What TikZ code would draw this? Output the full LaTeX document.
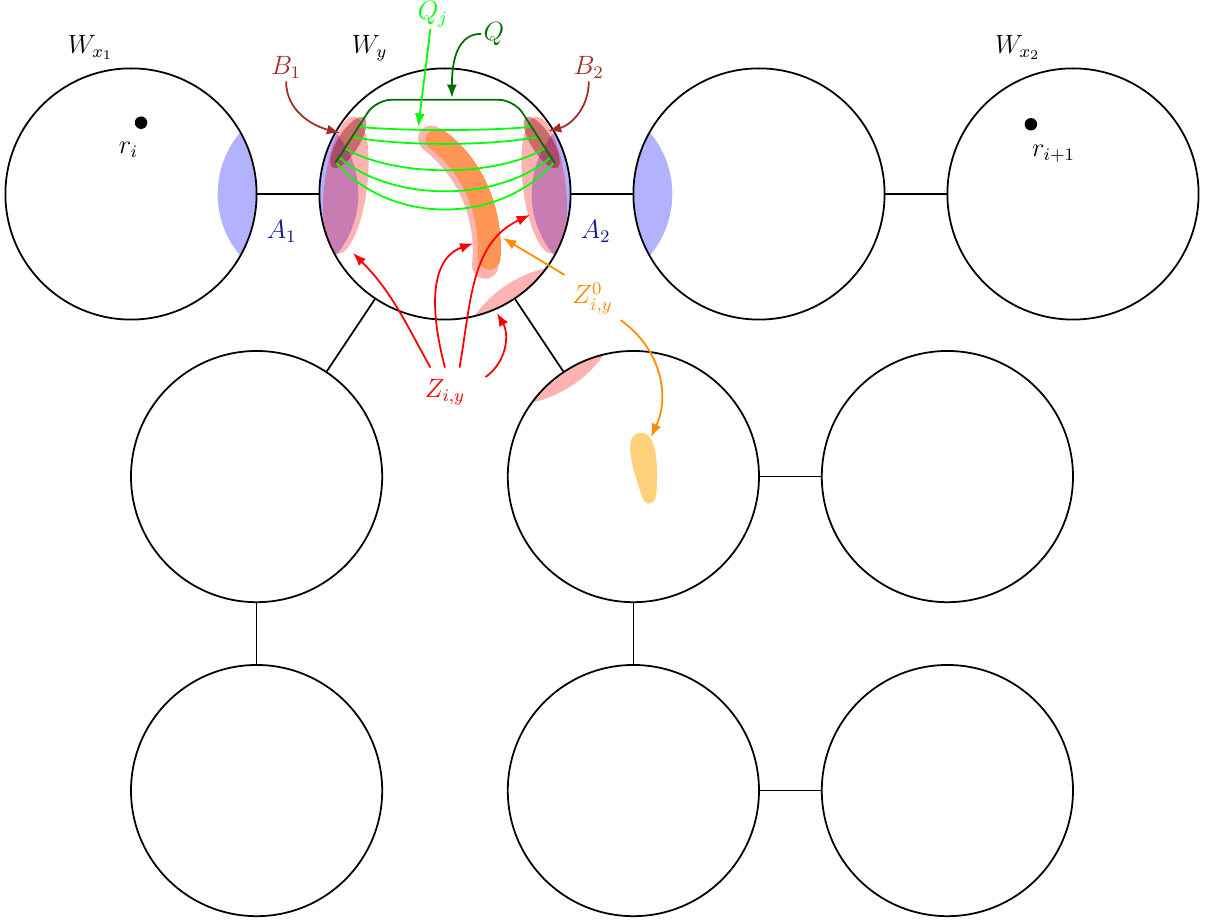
\documentclass[tikz,border=0pt]{standalone}
\usepackage{amsmath}
\usetikzlibrary{arrows.meta,positioning,backgrounds}

\definecolor{bcol}{RGB}{165,42,42}
\definecolor{qcol}{RGB}{0,110,0}
\definecolor{zocol}{RGB}{255,140,0}
\definecolor{acol}{RGB}{20,20,150}
\definecolor{bananacol}{RGB}{255,150,85}
\definecolor{dropcol}{RGB}{255,209,125}

\begin{document}
\begin{tikzpicture}[
  font=\large,
  bag/.style={circle,draw,thick,minimum size=4cm,inner sep=0pt},
  dot/.style={circle,fill,inner sep=2pt},
  lbl/.style={inner sep=1pt},
  arr/.style={-{Latex[length=6pt,width=4.5pt]},thick},
  lens/.style={fill=blue!30},
  zone/.style={fill=red,fill opacity=0.3},
  bzone/.style={fill=red!50!black,fill opacity=0.4},
  qjline/.style={green,thick},
]
\useasboundingbox (-2.086,-11.592) rectangle (17.134,3.089);

% bags of the decomposition
\node[bag] (wx1) at (0,0) {};
\node[bag] (wy) at (5,0) {};
\node[bag] (wz) at (10,0) {};
\node[bag] (wx2) at (15,0) {};
\node[bag] (ua) at (2,-4.5) {};
\node[bag] (ub) at (8,-4.5) {};
\node[bag] (uc) at (13,-4.5) {};
\node[bag] (va) at (2,-9.5) {};
\node[bag] (vb) at (8,-9.5) {};
\node[bag] (vc) at (13,-9.5) {};

\draw[thick] (wx1) -- (wy);
\draw[thick] (wy) -- (wz);
\draw[thick] (wz) -- (wx2);
\draw[thick] (wy) -- (ua);
\draw[thick] (wy) -- (ub);
\draw[thick] (ub) -- (uc);
\draw[thick] (ua) -- (va);
\draw[thick] (ub) -- (vb);
\draw[thick] (vb) -- (vc);

\node[lbl] (lwx1) at (-0.645,2.33) {$W_{x_1}$};
\node[lbl] (lwy) at (3.80,2.32) {$W_y$};
\node[lbl] (lwx2) at (14.12,2.33) {$W_{x_2}$};

% roots
\node[dot] (ri) at (0.16,1.135) {};
\node[lbl,below left=0.19cm and -0.07cm of ri] (lri) {$r_i$};
\node[dot] (ri1) at (14.33,1.11) {};
\node[lbl,below right=0.21cm and -0.1cm of ri1] (lri1) {$r_{i+1}$};

% shaded parts
\begin{scope}[on background layer]
  \begin{scope}
    \clip (wx1.center) circle (2);
    \fill[lens] (2.9,0) circle (1.52);
  \end{scope}
  \begin{scope}
    \clip (wz.center) circle (2);
    \fill[lens] (7.1,0) circle (1.52);
  \end{scope}
  \begin{scope}
    \clip (wy.center) circle (2);
    \fill[lens] (2.1,0) circle (1.52);
    \fill[lens] (7.9,0) circle (1.52);
    \fill[zone] (3.42,0.14) ellipse [x radius=0.34,y radius=1.1,rotate=-7];
    \fill[zone] (6.58,0.14) ellipse [x radius=0.34,y radius=1.1,rotate=7];
    \fill[bzone] (3.46,0.82) ellipse [x radius=0.47,y radius=0.17,rotate=58];
    \fill[bzone] (6.54,0.82) ellipse [x radius=0.47,y radius=0.17,rotate=-58];
    \fill[zone] (7.047,-3.07) circle (1.94);
    % Z^0 inside W_y
    \draw[red,opacity=0.3,line width=0.42cm,line cap=round]
      (4.78,0.88) .. controls (5.40,0.40) and (5.72,-0.35) .. (5.64,-1.14);
    \draw[bananacol,line width=0.37cm,line cap=round]
      (4.88,0.86) .. controls (5.45,0.45) and (5.75,-0.30) .. (5.70,-1.02);
  \end{scope}
  \begin{scope}
    \clip (ub.center) circle (2);
    \fill[zone] (5.953,-1.43) circle (1.94);
  \end{scope}
  \fill[dropcol,rotate around={6:(8.16,-4.36)}] (8.16,-3.80)
    .. controls (8.44,-3.80) and (8.40,-4.36) .. (8.32,-4.80)
    .. controls (8.28,-4.98) and (8.12,-4.98) .. (8.09,-4.80)
    .. controls (7.98,-4.36) and (7.88,-3.80) .. (8.16,-3.80) -- cycle;
\end{scope}

% paths through W_y
\begin{scope}[shift={(wy.center)}]
  \draw[qjline] (-1.38,1.07) .. controls (-0.69,1.00) and (0.69,1.00) .. (1.38,1.07);
  \draw[qjline] (-1.48,0.91) .. controls (-0.74,0.76) and (0.74,0.76) .. (1.48,0.91);
  \draw[qjline] (-1.60,0.73) .. controls (-0.80,0.26) and (0.80,0.26) .. (1.60,0.73);
  \draw[qjline] (-1.69,0.59) .. controls (-0.85,-0.14) and (0.85,-0.14) .. (1.69,0.59);
  \draw[qjline] (-1.74,0.51) .. controls (-0.87,-0.50) and (0.87,-0.50) .. (1.74,0.51);
  \draw[qcol,thick,rounded corners=7pt]
    (-1.75,0.49) -- (-1.10,1.50) -- (1.10,1.50) -- (1.75,0.49);
\end{scope}

% labels A, B, Q
\node[lbl,text=acol] (a1) at (2.40,-0.59) {$A_1$};
\node[lbl,text=acol] (a2) at (7.40,-0.59) {$A_2$};
\node[lbl,text=bcol] (b1) at (2.47,2.01) {$B_1$};
\node[lbl,text=bcol] (b2) at (7.29,2.01) {$B_2$};
\node[lbl,text=green] (qj) at (4.81,2.87) {$Q_j$};
\node[lbl,text=qcol] (q) at (5.78,2.55) {$Q$};

\coordinate (tb1) at (3.33,0.97);
\coordinate (tb2) at (6.64,1.00);
\coordinate (tqj) at (4.575,1.07);
\coordinate (tq) at (5.11,1.53);
\draw[arr,bcol] (b1.south) to[out=-90,in=165] (tb1);
\draw[arr,bcol] (b2.south) to[out=-90,in=15] (tb2);
\draw[arr,green] (qj.-100) -- (tqj);
\draw[arr,qcol] (q.west) to[out=180,in=90] (tq);

% labels Z
\node[text=zocol] (z0) at (7.35,-1.66) {$Z^0_{i,y}$};
\node[text=red,inner xsep=9pt,inner ysep=5pt] (z) at (5.0,-3.15) {$Z_{i,y}$};

\coordinate (tz0a) at (5.924,-0.70);
\coordinate (tz0b) at (8.28,-3.87);
\draw[arr,zocol] (z0.north west) -- (tz0a);
\draw[arr,zocol] (z0.-38) to[out=-35,in=65] (tz0b);

\coordinate (tz1) at (3.535,-0.94);
\coordinate (tz2) at (5.45,-0.785);
\coordinate (tz3) at (6.354,-0.334);
\coordinate (tz4) at (5.828,-1.895);
\draw[arr,red] (z.121) to[out=119,in=-45] (tz1);
\draw[arr,red] (z.north) to[out=105,in=200] (tz2);
\draw[arr,red] (z.59) to[out=80,in=205] (tz3);
\draw[arr,red] (z.20) to[out=35,in=-60] (tz4);
\end{tikzpicture}
\end{document}
